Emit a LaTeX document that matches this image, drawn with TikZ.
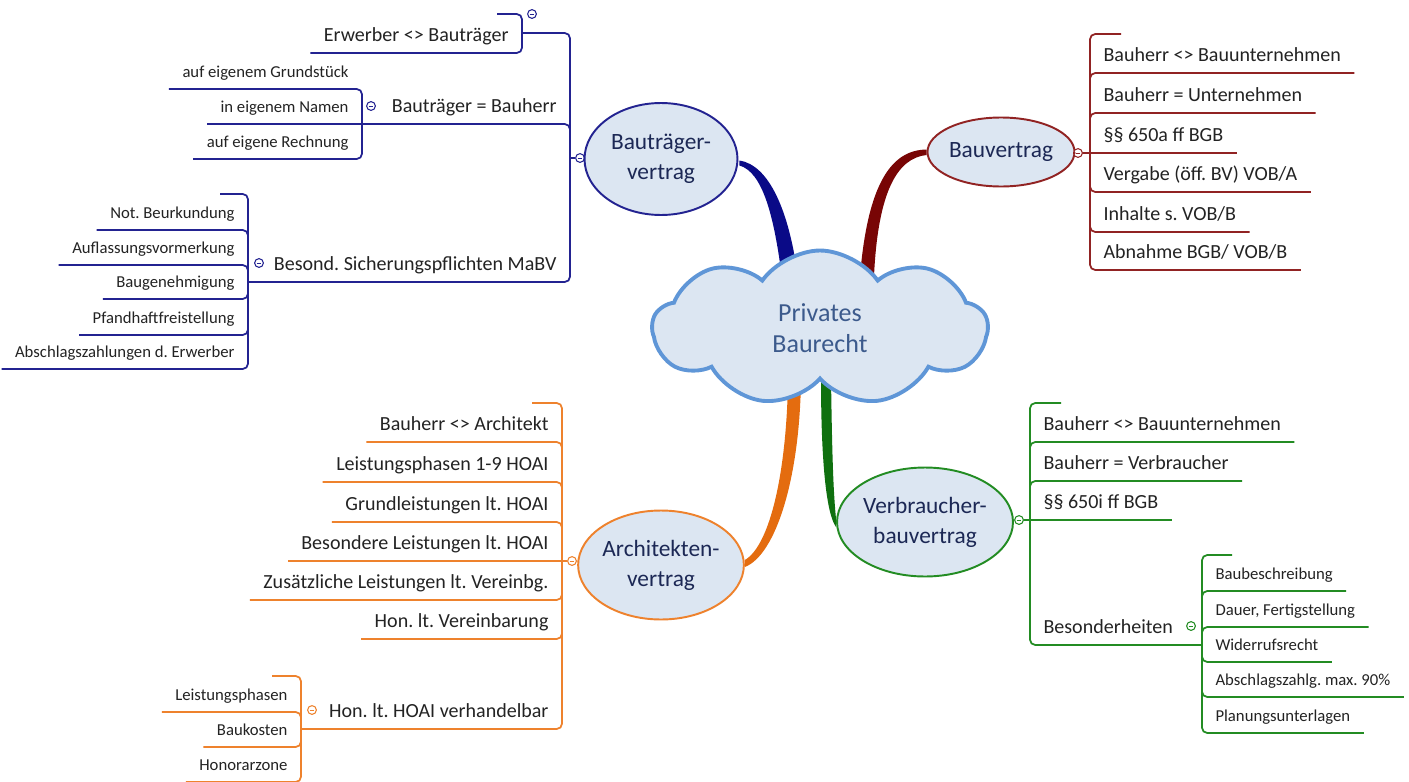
\documentclass[tikz,border=0pt]{standalone}
\usepackage{fontspec}
\setmainfont{Carlito}
\usetikzlibrary{shapes,calc,backgrounds}

\definecolor{btcol}{RGB}{35,35,145}
\definecolor{btdark}{RGB}{10,10,135}
\definecolor{bvcol}{RGB}{145,35,35}
\definecolor{bvdark}{RGB}{120,5,5}
\definecolor{avcol}{RGB}{238,130,45}
\definecolor{avdark}{RGB}{228,108,15}
\definecolor{vbcol}{RGB}{35,140,35}
\definecolor{vbdark}{RGB}{15,112,15}
\definecolor{topicfill}{RGB}{220,230,242}
\definecolor{cloudline}{RGB}{95,150,215}
\definecolor{topictext}{RGB}{28,40,85}
\definecolor{roottext}{RGB}{60,90,140}
\definecolor{itemtext}{RGB}{35,35,35}

\tikzset{
  topic/.style={ellipse, draw, line width=1.1pt, fill=topicfill, text=topictext, align=center, inner sep=0pt, font=\fontsize{13.3}{17}\selectfont},
  bigitem/.style={text=itemtext, inner xsep=7.5pt, inner ysep=6.5pt, text depth=0pt, font=\fontsize{11.4}{13}\selectfont},
  smallitem/.style={bigitem, font=\fontsize{9.5}{11}\selectfont},
  knob/.style={circle, draw=#1, fill=white, line width=0.6pt, minimum size=5pt, inner sep=0pt,
    path picture={\draw[#1, line width=0.45pt] ([xshift=-1.3pt]path picture bounding box.center) -- ([xshift=1.3pt]path picture bounding box.center);}},
  branch/.style={draw=#1, line width=1pt, rounded corners=3pt}
}

\begin{document}
\frenchspacing
\begin{tikzpicture}[x=0.02cm, y=-0.02cm]
\useasboundingbox (0,0) rectangle (1409,781);

% root and main topics
\node[cloud, cloud puffs=9, cloud puff arc=110, cloud ignores aspect, draw=cloudline, fill=topicfill, line width=2.2pt, minimum width=6.7cm, minimum height=3.1cm, text=roottext, align=center, font=\fontsize{14.8}{18}\selectfont] (root) at (820,328) {Privates\\Baurecht};
\node[topic, draw=btcol, minimum width=3.06cm, minimum height=2.24cm] (bt) at (661,159) {Bauträger-\\vertrag};
\node[topic, draw=bvcol, minimum width=2.88cm, minimum height=1.38cm] (bv) at (1001,152) {Bauvertrag};
\node[topic, draw=avcol, minimum width=3.3cm, minimum height=2.18cm] (av) at (661,565) {Architekten-\\vertrag};
\node[topic, draw=vbcol, minimum width=3.52cm, minimum height=2.18cm] (vb) at (925,522) {Verbraucher-\\bauvertrag};

% thick tapered connectors
\begin{scope}[on background layer]
\fill[white] (0,0) rectangle (1409,781);
\fill[btdark] ($(bt.east)+(1,1.5)$) .. controls +(29,4.5) and +(-9,-69) .. ($(root)+(-22,-50)$) -- ($(root)+(-38,-50)$) .. controls +(-8,-63) and +(23,6.5) .. ($(bt.east)+(1,6.5)$) -- cycle;
\fill[bvdark] ($(bv.west)+(0,-2.5)$) .. controls +(-34,0.5) and +(8,-95) .. ($(root)+(40,-52)$) -- ($(root)+(54,-52)$) .. controls +(4,-85) and +(-29,3) .. ($(bv.west)+(0,3)$) -- cycle;
\fill[avdark] ($(root)+(-32,50)$) .. controls +(-1,90) and +(26,-15) .. ($(av.east)+(0,-5)$) -- ($(av.east)+(0,2)$) .. controls +(31,-12) and +(-1,100) .. ($(root)+(-19,50)$) -- cycle;
\fill[vbdark] ($(root)+(1,50)$) .. controls +(0,90) and +(-9,-12) .. ($(vb.west)+(0,5)$) -- ($(vb.west)+(0,-3)$) .. controls +(-3,-29) and +(1,70) .. ($(root)+(11,50)$) -- cycle;
\end{scope}

% Bautraegervertrag
\node[knob=btcol] (btk) at (580,158) {};
\coordinate (btj) at (570,158);
\coordinate (erj) at (522,33);
\coordinate (ers) at (497,14);
\node[bigitem, anchor=south east] (bt1) at (522,53) {Erwerber <> Bauträger};
\node[knob=btcol] (bt1k) at (532,14) {};
\node[bigitem, anchor=south east] (bt2) at (570,124) {Bauträger = Bauherr};
\coordinate (bt2j) at (362,124);
\node[knob=btcol] (bt2k) at (371,106) {};
\node[bigitem, anchor=south east] (bt3) at (570,282) {Besond. Sicherungspflichten MaBV};
\coordinate (bt3j) at (248,282);
\coordinate (bt3s) at (220,194);
\node[knob=btcol] (bt3k) at (259,263) {};
\node[smallitem, anchor=south east] (bt21) at (362,89) {auf eigenem Grundstück};
\node[smallitem, anchor=south east] (bt22) at (362,124) {in eigenem Namen};
\node[smallitem, anchor=south east] (bt23) at (362,159) {auf eigene Rechnung};
\node[smallitem, anchor=south east] (bt31) at (248,230) {Not. Beurkundung};
\node[smallitem, anchor=south east] (bt32) at (248,265) {Auflassungsvormerkung};
\node[smallitem, anchor=south east] (bt33) at (248,299) {Baugenehmigung};
\node[smallitem, anchor=south east] (bt34) at (248,335) {Pfandhaftfreistellung};
\node[smallitem, anchor=south east] (bt35) at (248,369) {Abschlagszahlungen d. Erwerber};

\draw[branch=btcol] (bt) -- (btk) -- (btj);
\draw[branch=btcol] (btj) |- (erj);
\draw[branch=btcol] (ers) -| (bt1.south east) -- (bt1.south west);
\draw[branch=btcol] (btj) |- (bt2.south west) -- (bt2j);
\draw[branch=btcol] (btj) |- (bt3.south west) -- (bt3j);
\draw[branch=btcol] (bt2j) |- (bt21.south west);
\draw[branch=btcol] (bt2j) -- (bt22.south west);
\draw[branch=btcol] (bt2j) |- (bt23.south west);
\draw[branch=btcol] (bt3j) |- (bt3s);
\draw[branch=btcol] (bt3j) |- (bt31.south west);
\draw[branch=btcol] (bt3j) |- (bt32.south west);
\draw[branch=btcol] (bt3j) |- (bt33.south west);
\draw[branch=btcol] (bt3j) |- (bt34.south west);
\draw[branch=btcol] (bt3j) |- (bt35.south west);

% Bauvertrag
\node[knob=bvcol] (bvk) at (1078,153) {};
\coordinate (bvj) at (1090,153);
\coordinate (bvs) at (1121,34);
\node[bigitem, anchor=south west] (bv1) at (1090,73) {Bauherr <> Bauunternehmen};
\node[bigitem, anchor=south west] (bv2) at (1090,113) {Bauherr = Unternehmen};
\node[bigitem, anchor=south west] (bv3) at (1090,153) {§§ 650a ff BGB};
\node[bigitem, anchor=south west] (bv4) at (1090,192) {Vergabe (öff. BV) VOB/A};
\node[bigitem, anchor=south west] (bv5) at (1090,232) {Inhalte s. VOB/B};
\node[bigitem, anchor=south west] (bv6) at (1090,270) {Abnahme BGB/ VOB/B};

\draw[branch=bvcol] (bv) -- (bvk) -- (bvj);
\draw[branch=bvcol] (bvj) |- (bvs);
\draw[branch=bvcol] (bvj) |- (bv1.south east);
\draw[branch=bvcol] (bvj) |- (bv2.south east);
\draw[branch=bvcol] (bvj) -- (bv3.south east);
\draw[branch=bvcol] (bvj) |- (bv4.south east);
\draw[branch=bvcol] (bvj) |- (bv5.south east);
\draw[branch=bvcol] (bvj) |- (bv6.south east);

% Architektenvertrag
\node[knob=avcol] (avk) at (572,561) {};
\coordinate (avj) at (562,561);
\coordinate (avs) at (532,403);
\node[bigitem, anchor=south east] (av1) at (562,442) {Bauherr <> Architekt};
\node[bigitem, anchor=south east] (av2) at (562,482) {Leistungsphasen 1-9 HOAI};
\node[bigitem, anchor=south east] (av3) at (562,522) {Grundleistungen lt. HOAI};
\node[bigitem, anchor=south east] (av4) at (562,561) {Besondere Leistungen lt. HOAI};
\node[bigitem, anchor=south east] (av5) at (562,600) {Zusätzliche Leistungen lt. Vereinbg.};
\node[bigitem, anchor=south east] (av6) at (562,639) {Hon. lt. Vereinbarung};
\node[bigitem, anchor=south east] (av7) at (562,729) {Hon. lt. HOAI verhandelbar};
\coordinate (av7j) at (301,729);
\coordinate (av7s) at (272,676);
\node[knob=avcol] (av7k) at (312,710) {};
\node[smallitem, anchor=south east] (av71) at (301,712) {Leistungsphasen};
\node[smallitem, anchor=south east] (av72) at (301,747) {Baukosten};
\node[smallitem, anchor=south east] (av73) at (301,782) {Honorarzone};

\draw[branch=avcol] (av) -- (avk) -- (avj);
\draw[branch=avcol] (avj) |- (avs);
\draw[branch=avcol] (avj) |- (av1.south west);
\draw[branch=avcol] (avj) |- (av2.south west);
\draw[branch=avcol] (avj) |- (av3.south west);
\draw[branch=avcol] (avj) -- (av4.south west);
\draw[branch=avcol] (avj) |- (av5.south west);
\draw[branch=avcol] (avj) |- (av6.south west);
\draw[branch=avcol] (avj) |- (av7.south west) -- (av7j);
\draw[branch=avcol] (av7j) |- (av7s);
\draw[branch=avcol] (av7j) |- (av71.south west);
\draw[branch=avcol] (av7j) |- (av72.south west);
\draw[branch=avcol] (av7j) |- (av73.south west);

% Verbraucherbauvertrag
\node[knob=vbcol] (vbk) at (1019,520) {};
\coordinate (vbj) at (1030,520);
\coordinate (vbs) at (1061,403);
\node[bigitem, anchor=south west] (vb1) at (1030,442) {Bauherr <> Bauunternehmen};
\node[bigitem, anchor=south west] (vb2) at (1030,481) {Bauherr = Verbraucher};
\node[bigitem, anchor=south west] (vb3) at (1030,520) {§§ 650i ff BGB};
\node[bigitem, anchor=south west] (vb4) at (1030,645) {Besonderheiten};
\coordinate (vb4j) at (1202,645);
\coordinate (vb4s) at (1232,555);
\node[knob=vbcol] (vb4k) at (1191,626) {};
\node[smallitem, anchor=south west] (vb41) at (1202,591) {Baubeschreibung};
\node[smallitem, anchor=south west] (vb42) at (1202,627) {Dauer, Fertigstellung};
\node[smallitem, anchor=south west] (vb43) at (1202,662) {Widerrufsrecht};
\node[smallitem, anchor=south west] (vb44) at (1202,697) {Abschlagszahlg. max. 90\%};
\node[smallitem, anchor=south west] (vb45) at (1202,733) {Planungsunterlagen};

\draw[branch=vbcol] (vb) -- (vbk) -- (vbj);
\draw[branch=vbcol] (vbj) |- (vbs);
\draw[branch=vbcol] (vbj) |- (vb1.south east);
\draw[branch=vbcol] (vbj) |- (vb2.south east);
\draw[branch=vbcol] (vbj) -- (vb3.south east);
\draw[branch=vbcol] (vbj) |- (vb4.south east) -- (vb4j);
\draw[branch=vbcol] (vb4j) |- (vb4s);
\draw[branch=vbcol] (vb4j) |- (vb41.south east);
\draw[branch=vbcol] (vb4j) |- (vb42.south east);
\draw[branch=vbcol] (vb4j) |- (vb43.south east);
\draw[branch=vbcol] (vb4j) |- (vb44.south east);
\draw[branch=vbcol] (vb4j) |- (vb45.south east);
\end{tikzpicture}
\end{document}
